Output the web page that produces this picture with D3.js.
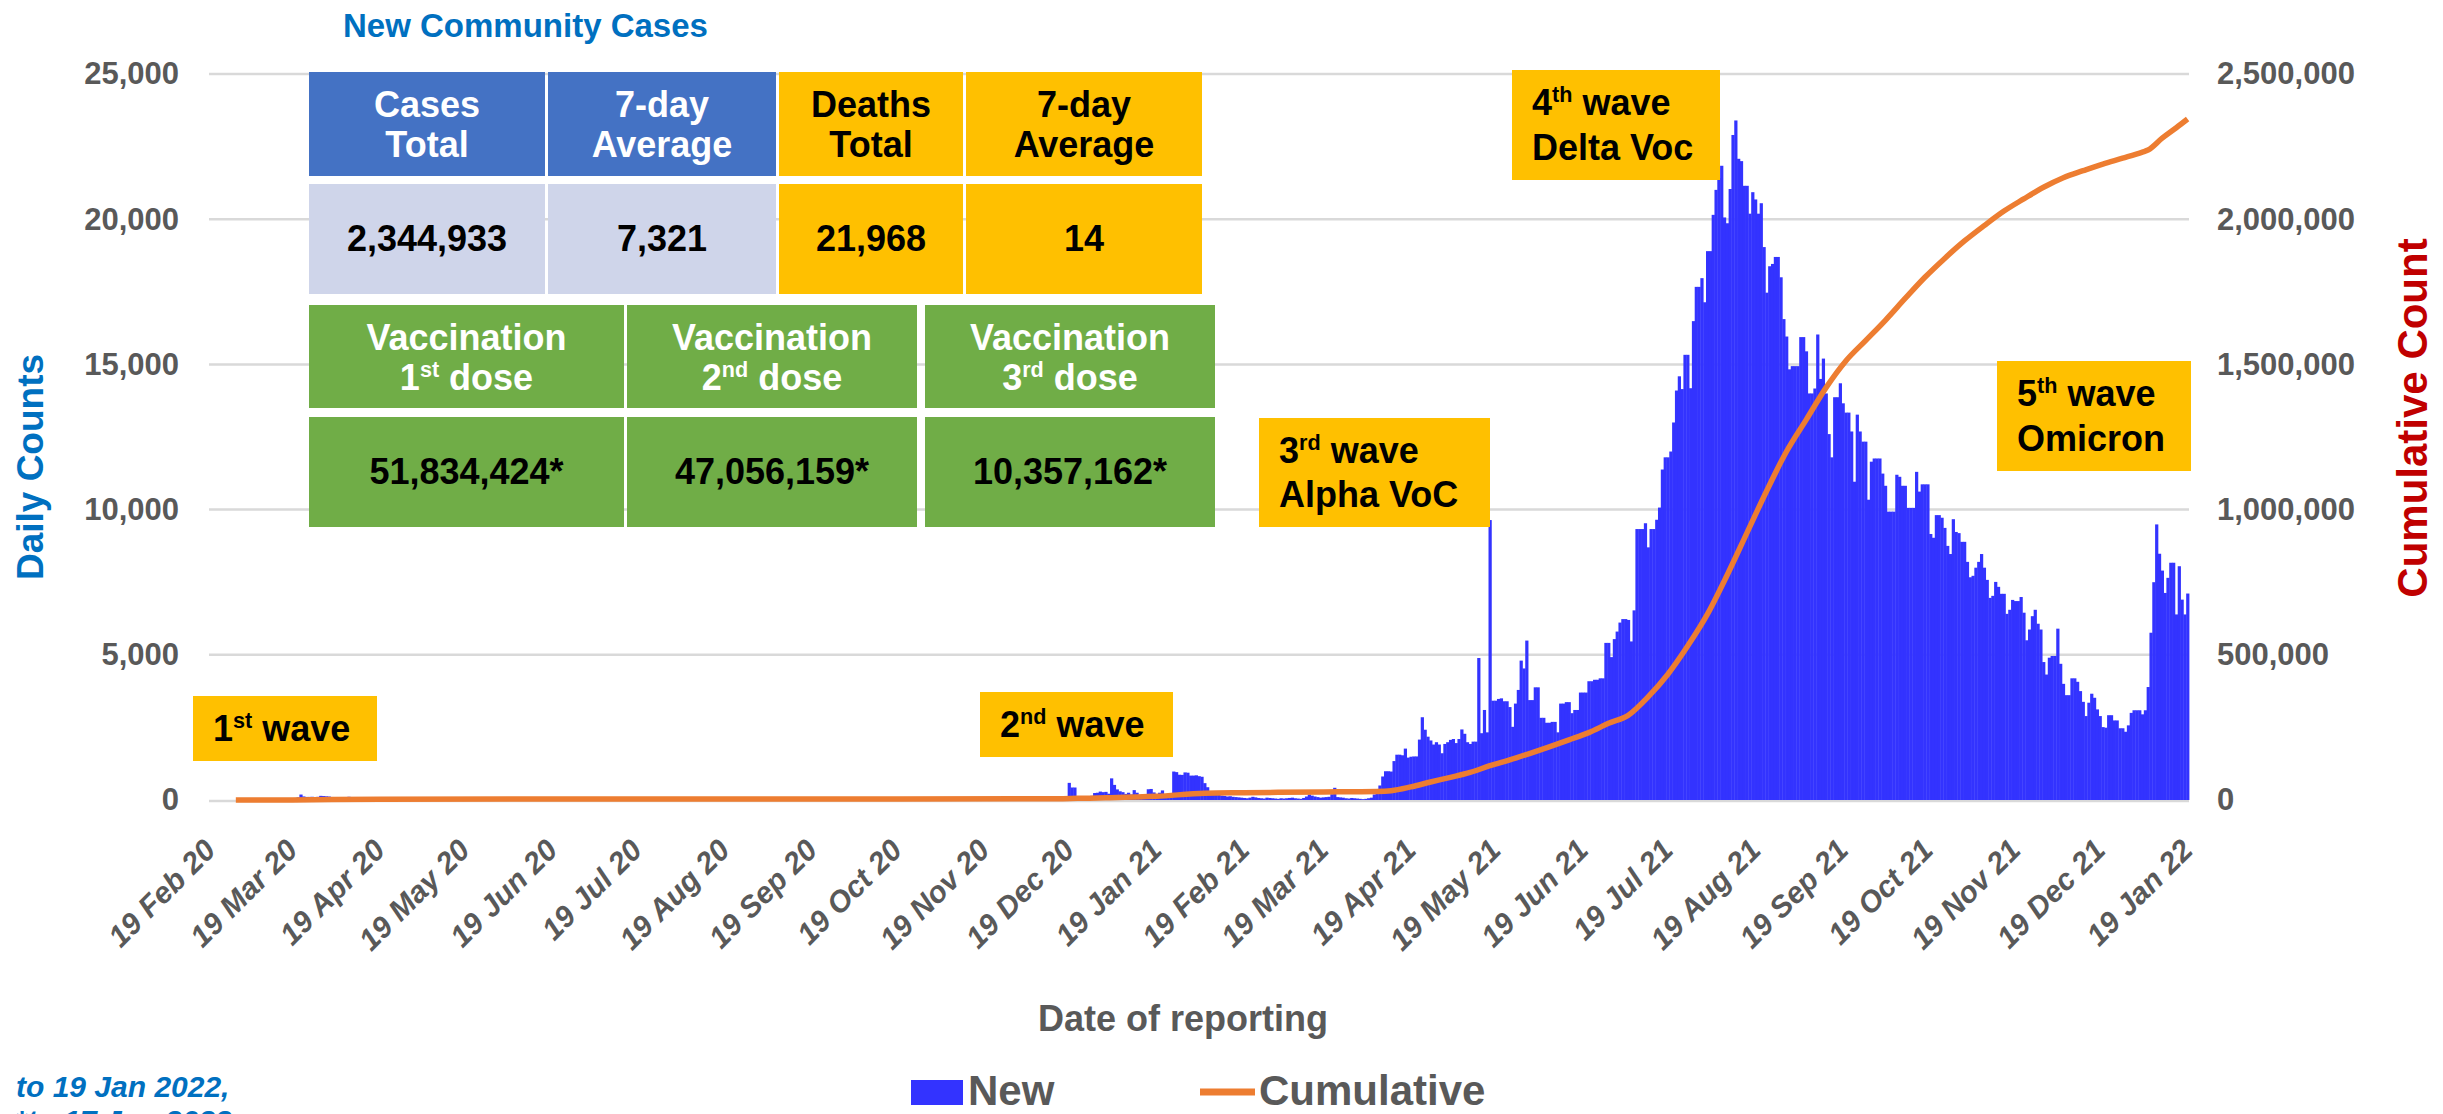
<!DOCTYPE html>
<html>
<head>
<meta charset="utf-8">
<script src="https://cdn.jsdelivr.net/npm/d3@7"></script>
<style>
  body { margin: 0; background: #fff; }
  text { font-family: "Liberation Sans", Arial, sans-serif; }
</style>
</head>
<body>
<svg id="chart" width="2443" height="1114"></svg>
<script>
// ---- data ----
const axisFirstDay = "2020-02-19";
const axisLastDay = "2022-01-19";

// first wave, daily new cases from 14 Mar 2020
const firstWaveStart = "2020-03-14";
const firstWave = [7, 32, 33, 30, 35, 60, 50, 89, 188, 122, 106, 107, 111, 91, 109, 143, 136, 127, 120, 104,
  103, 89, 102, 51, 38, 111, 54, 50, 45, 33];

// daily new cases from 15 Dec 2020 to 19 Jan 2022
const newStart = "2020-12-15";
const newCases = [
  10, 15, 10, 10, 590, 430, 430, 46, 37, 81,
  110, 121, 144, 240, 250, 290, 270, 280, 216, 745,
  520, 365, 300, 270, 210, 250, 190, 340, 250, 160,
  180, 200, 370, 380, 260, 200, 250, 330, 200, 170,
  110, 980, 960, 870, 865, 950, 940, 840, 840, 850,
  820, 800, 580, 440, 300, 250, 220, 180, 150, 140,
  120, 130, 110, 100, 90, 80, 70, 60, 80, 110,
  90, 70, 60, 50, 80, 70, 60, 50, 40, 60,
  50, 60, 70, 80, 60, 50, 40, 70, 120, 190,
  150, 120, 100, 80, 90, 100, 110, 200, 420, 100,
  90, 80, 60, 50, 70, 60, 50, 40, 30, 40,
  60, 80, 190, 250, 500, 810, 990, 990, 980, 1340,
  1560, 1560, 1540, 1770, 1460, 1490, 1500, 1500, 2080, 2850,
  2420, 2180, 2050, 1910, 1990, 1910, 1610, 1930, 1990, 2070,
  2100, 1960, 2100, 2430, 2280, 1990, 1930, 2010, 2010, 4890,
  2300, 3100, 2330, 9640, 3420, 3420, 3480, 3500, 3400, 3400,
  3200, 2520, 3320, 3790, 4800, 4530, 5490, 3440, 3440, 3880,
  3880, 2830, 2830, 2660, 2660, 2690, 2690, 2330, 3320, 3320,
  3370, 3370, 2990, 3100, 3100, 3700, 3700, 3700, 4090, 4090,
  4140, 4140, 4190, 4190, 5410, 5410, 4920, 5540, 5800, 6110,
  6230, 6230, 6200, 5460, 6530, 9330, 9330, 9330, 9530, 8700,
  9330, 9330, 9650, 10070, 11380, 11800, 11800, 12000, 13000, 14100,
  14590, 14150, 15330, 15330, 14180, 16490, 17670, 17670, 17970, 17140,
  18900, 18900, 20150, 21010, 21420, 21840, 20060, 19860, 21040, 22900,
  23400, 22080, 22000, 21150, 21150, 20190, 20930, 20680, 20190, 20550,
  19040, 17470, 18380, 18460, 18700, 18700, 18000, 16560, 15960, 14830,
  14940, 14940, 14940, 15940, 15940, 15450, 14000, 14000, 14170, 16030,
  14500, 15200, 14000, 12600, 11800, 13870, 13870, 14350, 13660, 13340,
  13340, 12690, 10960, 13270, 12690, 12340, 12340, 10340, 11650, 11760,
  11760, 11760, 11240, 10820, 9930, 9930, 9930, 11200, 11130, 10820,
  10820, 10060, 10060, 10060, 11300, 10620, 10870, 10870, 10870, 9160,
  9030, 9810, 9810, 9720, 9370, 8750, 8470, 9670, 9230, 9190,
  8890, 8890, 8200, 7670, 7720, 8000, 8200, 8470, 8000, 7580,
  6960, 7030, 7510, 7340, 7100, 7100, 6410, 6550, 6890, 6850,
  6850, 6990, 6450, 5500, 5870, 6330, 6550, 6070, 5870, 4750,
  4320, 4900, 4960, 4960, 5900, 4690, 4000, 3610, 3610, 4190,
  4190, 4070, 3750, 3380, 2890, 3350, 3660, 3520, 3120, 2890,
  2510, 2490, 2920, 2920, 2740, 2740, 2470, 2470, 2350, 2570,
  3000, 3090, 3090, 3090, 2950, 3090, 3890, 5760, 7500, 9490,
  8480, 7900, 7130, 7650, 8170, 8170, 6390, 8050, 6900, 6390,
  7110
];

// cumulative count, read at roughly weekly points
const cumDates = ["2020-02-28", "2020-03-19", "2020-04-19", "2020-07-19", "2020-10-19", "2020-12-15",
  "2020-12-22", "2021-01-01", "2021-01-19", "2021-02-05", "2021-02-19", "2021-03-19", "2021-04-07",
  "2021-04-12", "2021-04-19", "2021-04-26", "2021-05-03", "2021-05-10", "2021-05-17", "2021-05-24",
  "2021-05-31", "2021-06-07", "2021-06-14", "2021-06-21", "2021-06-28", "2021-07-05", "2021-07-12",
  "2021-07-19", "2021-07-26", "2021-08-02", "2021-08-09", "2021-08-16", "2021-08-23", "2021-08-30",
  "2021-09-06", "2021-09-13", "2021-09-20", "2021-09-27", "2021-10-04", "2021-10-11", "2021-10-18",
  "2021-10-25", "2021-11-01", "2021-11-08", "2021-11-15", "2021-11-22", "2021-11-29", "2021-12-06",
  "2021-12-13", "2021-12-20", "2021-12-27", "2022-01-03", "2022-01-05", "2022-01-10", "2022-01-15",
  "2022-01-19"];
const cumValues = [40, 270, 2800, 3250, 3700, 4250,
  5700, 7400, 12600, 23500, 25300, 27600, 29500,
  32000, 45000, 62000, 78000, 95000, 118000, 138000,
  160000, 183000, 207000, 232000, 264000, 292000, 355000,
  433000, 530000, 640000, 775000, 920000, 1065000, 1200000,
  1310000, 1420000, 1512000, 1582000, 1652000, 1727000, 1800000,
  1865000, 1925000, 1978000, 2028000, 2070000, 2110000, 2143000,
  2167000, 2190000, 2210000, 2231000, 2238000, 2279000, 2315000,
  2345000];

const tickDates = ["2020-02-19", "2020-03-19", "2020-04-19", "2020-05-19", "2020-06-19", "2020-07-19",
  "2020-08-19", "2020-09-19", "2020-10-19", "2020-11-19", "2020-12-19", "2021-01-19", "2021-02-19",
  "2021-03-19", "2021-04-19", "2021-05-19", "2021-06-19", "2021-07-19", "2021-08-19", "2021-09-19",
  "2021-10-19", "2021-11-19", "2021-12-19", "2022-01-19"];
const dailyTicks = [0, 5000, 10000, 15000, 20000, 25000];
const cumTicks = [0, 500000, 1000000, 1500000, 2000000, 2500000];

// ---- setup ----
const parse = d3.timeParse("%Y-%m-%d");
const svg = d3.select("#chart");
const grey = "#595959";

const plotL = 209, plotR = 2189, plotT = 74, plotB = 800;

const days = d3.timeDay.range(parse(axisFirstDay), d3.timeDay.offset(parse(axisLastDay), 1));
const x = d3.scaleBand().domain(days).range([plotL, plotR]).padding(0);
const y = d3.scaleLinear().domain([0, 25000]).range([plotB, plotT]);
const yCum = d3.scaleLinear().domain([0, 2500000]).range([plotB, plotT]);

const bars = [];
firstWave.forEach((v, i) => bars.push({ date: d3.timeDay.offset(parse(firstWaveStart), i), value: v }));
newCases.forEach((v, i) => bars.push({ date: d3.timeDay.offset(parse(newStart), i), value: v }));

const cum = cumDates.map((d, i) => ({ date: parse(d), value: cumValues[i] }));

// gridlines
svg.append("g")
  .selectAll("line")
  .data(dailyTicks)
  .join("line")
  .attr("x1", plotL)
  .attr("x2", plotR)
  .attr("y1", d => y(d) + (d === 0 ? 1 : 0))
  .attr("y2", d => y(d) + (d === 0 ? 1 : 0))
  .attr("stroke", "#d9d9d9")
  .attr("stroke-width", 2.5);

// bars
svg.append("g")
  .selectAll("rect")
  .data(bars)
  .join("rect")
  .attr("x", d => x(d.date))
  .attr("y", d => y(d.value))
  .attr("width", x.bandwidth() + 0.4)
  .attr("height", d => y(0) - y(d.value))
  .attr("fill", "#3333ff");

// cumulative line
const line = d3.line()
  .x(d => x(d.date) + x.bandwidth() / 2)
  .y(d => yCum(d.value))
  .curve(d3.curveMonotoneX);

svg.append("path")
  .datum(cum)
  .attr("d", line)
  .attr("fill", "none")
  .attr("stroke", "#ed7d31")
  .attr("stroke-width", 5.5)
  .attr("stroke-linejoin", "round");

// axes
const styleAxis = g => {
  g.select(".domain").remove();
  g.selectAll("text")
    .attr("fill", grey)
    .attr("font-size", 31)
    .attr("font-weight", "bold")
    .attr("font-family", "'Liberation Sans', Arial, sans-serif");
};

svg.append("g")
  .attr("transform", `translate(${plotL},0)`)
  .call(d3.axisLeft(y).tickValues(dailyTicks).tickSize(0).tickPadding(30).tickFormat(d3.format(",")))
  .call(styleAxis);

svg.append("g")
  .attr("transform", `translate(${plotR},0)`)
  .call(d3.axisRight(yCum).tickValues(cumTicks).tickSize(0).tickPadding(28).tickFormat(d3.format(",")))
  .call(styleAxis);

const xAxis = svg.append("g")
  .attr("transform", `translate(0,${plotB})`)
  .call(d3.axisBottom(x).tickValues(tickDates.map(parse)).tickSize(0).tickFormat(d3.timeFormat("%d %b %y")))
  .call(styleAxis);

xAxis.selectAll("text")
  .attr("font-size", 30)
  .attr("font-style", "italic")
  .attr("text-anchor", "end")
  .attr("y", 0)
  .attr("dy", null)
  .attr("transform", "translate(7,52) rotate(-45)");

// axis titles
svg.append("text")
  .attr("transform", "translate(43,467) rotate(-90)")
  .attr("text-anchor", "middle")
  .attr("font-size", 37)
  .attr("font-weight", "bold")
  .attr("fill", "#0070c0")
  .text("Daily Counts");

svg.append("text")
  .attr("transform", "translate(2427,418) rotate(-90)")
  .attr("text-anchor", "middle")
  .attr("font-size", 42)
  .attr("font-weight", "bold")
  .attr("fill", "#c00000")
  .text("Cumulative Count");

svg.append("text")
  .attr("x", 1183)
  .attr("y", 1031)
  .attr("text-anchor", "middle")
  .attr("font-size", 36)
  .attr("font-weight", "bold")
  .attr("fill", grey)
  .text("Date of reporting");

// title
svg.append("text")
  .attr("x", 343)
  .attr("y", 37)
  .attr("font-size", 33)
  .attr("font-weight", "bold")
  .attr("fill", "#0070c0")
  .text("New Community Cases");

// text helper: parts are [text, isSuper]
function richText(g, cx, yBase, parts, anchor, fill, size) {
  const t = g.append("text")
    .attr("x", cx)
    .attr("y", yBase)
    .attr("text-anchor", anchor)
    .attr("font-size", size)
    .attr("font-weight", "bold")
    .attr("fill", fill);
  let raised = false;
  parts.forEach(([s, sup]) => {
    const span = t.append("tspan").text(s);
    if (sup && !raised) { span.attr("font-size", size * 0.6).attr("dy", -size * 0.36); raised = true; }
    else if (!sup && raised) { span.attr("dy", size * 0.36); raised = false; }
  });
}

// summary table
const cells = [
  { x0: 309, x1: 545, y0: 72, y1: 176, fill: "#4472c4", color: "#fff", lines: [[["Cases"]], [["Total"]]] },
  { x0: 548, x1: 776, y0: 72, y1: 176, fill: "#4472c4", color: "#fff", lines: [[["7-day"]], [["Average"]]] },
  { x0: 779, x1: 963, y0: 72, y1: 176, fill: "#ffc000", color: "#000", lines: [[["Deaths"]], [["Total"]]] },
  { x0: 966, x1: 1202, y0: 72, y1: 176, fill: "#ffc000", color: "#000", lines: [[["7-day"]], [["Average"]]] },
  { x0: 309, x1: 545, y0: 184, y1: 294, fill: "#cfd5ea", color: "#000", lines: [[["2,344,933"]]] },
  { x0: 548, x1: 776, y0: 184, y1: 294, fill: "#cfd5ea", color: "#000", lines: [[["7,321"]]] },
  { x0: 779, x1: 963, y0: 184, y1: 294, fill: "#ffc000", color: "#000", lines: [[["21,968"]]] },
  { x0: 966, x1: 1202, y0: 184, y1: 294, fill: "#ffc000", color: "#000", lines: [[["14"]]] },
  { x0: 309, x1: 624, y0: 305, y1: 408, fill: "#70ad47", color: "#fff", lines: [[["Vaccination"]], [["1"], ["st", true], [" dose"]]] },
  { x0: 627, x1: 917, y0: 305, y1: 408, fill: "#70ad47", color: "#fff", lines: [[["Vaccination"]], [["2"], ["nd", true], [" dose"]]] },
  { x0: 925, x1: 1215, y0: 305, y1: 408, fill: "#70ad47", color: "#fff", lines: [[["Vaccination"]], [["3"], ["rd", true], [" dose"]]] },
  { x0: 309, x1: 624, y0: 417, y1: 527, fill: "#70ad47", color: "#000", lines: [[["51,834,424*"]]] },
  { x0: 627, x1: 917, y0: 417, y1: 527, fill: "#70ad47", color: "#000", lines: [[["47,056,159*"]]] },
  { x0: 925, x1: 1215, y0: 417, y1: 527, fill: "#70ad47", color: "#000", lines: [[["10,357,162*"]]] }
];

const table = svg.append("g");
cells.forEach(c => {
  table.append("rect")
    .attr("x", c.x0).attr("y", c.y0)
    .attr("width", c.x1 - c.x0).attr("height", c.y1 - c.y0)
    .attr("fill", c.fill);
  const cx = (c.x0 + c.x1) / 2, cy = (c.y0 + c.y1) / 2;
  if (c.lines.length === 2) {
    richText(table, cx, cy - 7, c.lines[0], "middle", c.color, 36);
    richText(table, cx, cy + 33, c.lines[1], "middle", c.color, 36);
  } else {
    richText(table, cx, cy + 12, c.lines[0], "middle", c.color, 36);
  }
});

// wave labels
const waves = [
  { x0: 193, x1: 377, y0: 696, y1: 761, lines: [[["1"], ["st", true], [" wave"]]], base: [741] },
  { x0: 980, x1: 1173, y0: 692, y1: 757, lines: [[["2"], ["nd", true], [" wave"]]], base: [737] },
  { x0: 1259, x1: 1490, y0: 418, y1: 527, lines: [[["3"], ["rd", true], [" wave"]], [["Alpha VoC"]]], base: [463, 507] },
  { x0: 1512, x1: 1720, y0: 70, y1: 180, lines: [[["4"], ["th", true], [" wave"]], [["Delta Voc"]]], base: [115, 160] },
  { x0: 1997, x1: 2191, y0: 361, y1: 471, lines: [[["5"], ["th", true], [" wave"]], [["Omicron"]]], base: [406, 451] }
];
const waveG = svg.append("g");
waves.forEach(w => {
  waveG.append("rect")
    .attr("x", w.x0).attr("y", w.y0)
    .attr("width", w.x1 - w.x0).attr("height", w.y1 - w.y0)
    .attr("fill", "#ffc000");
  w.lines.forEach((ln, i) => richText(waveG, w.x0 + 20, w.base[i], ln, "start", "#000", 36));
});

// legend
svg.append("rect")
  .attr("x", 911).attr("y", 1080)
  .attr("width", 52).attr("height", 25)
  .attr("fill", "#3333ff");
svg.append("text")
  .attr("x", 968).attr("y", 1105)
  .attr("font-size", 42).attr("font-weight", "bold").attr("fill", grey)
  .text("New");
svg.append("line")
  .attr("x1", 1200).attr("x2", 1255)
  .attr("y1", 1092).attr("y2", 1092)
  .attr("stroke", "#ed7d31").attr("stroke-width", 7);
svg.append("text")
  .attr("x", 1259).attr("y", 1105)
  .attr("font-size", 42).attr("font-weight", "bold").attr("fill", grey)
  .text("Cumulative");

// footnote (second line runs off the bottom edge, as in the source)
svg.append("text")
  .attr("x", 16).attr("y", 1097)
  .attr("font-size", 30).attr("font-weight", "bold").attr("font-style", "italic")
  .attr("fill", "#0070c0")
  .text("to 19 Jan 2022,");
svg.append("text")
  .attr("x", 15).attr("y", 1131)
  .attr("font-size", 30).attr("font-weight", "bold").attr("font-style", "italic")
  .attr("fill", "#0070c0")
  .text("*to 17 Jan 2022");
</script>
</body>
</html>
